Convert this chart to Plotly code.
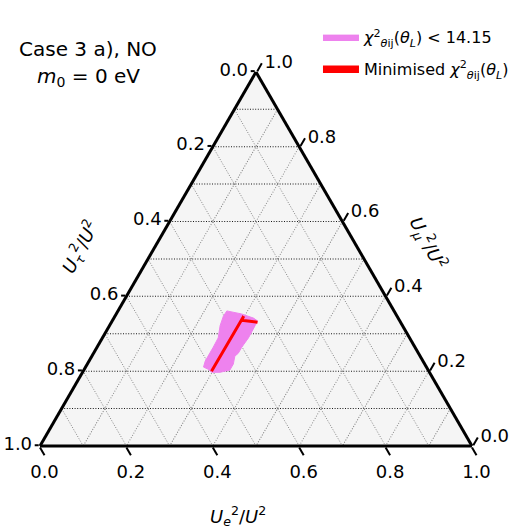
import plotly.graph_objects as go

# ---- data (ternary fractions) ----
# magenta region: chi^2 < 14.15  (mu, tau, e)
region_mu  = [0.361, 0.353, 0.342, 0.334, 0.322, 0.289, 0.264, 0.248, 0.240, 0.219, 0.203,
              0.197, 0.197, 0.205, 0.211, 0.227, 0.264, 0.289, 0.322, 0.347, 0.361]
region_tau = [0.387, 0.357, 0.335, 0.329, 0.341, 0.373, 0.401, 0.417, 0.429, 0.443, 0.459,
              0.485, 0.504, 0.508, 0.516, 0.504, 0.467, 0.443, 0.422, 0.402, 0.387]
region_e   = [0.252, 0.290, 0.323, 0.337, 0.337, 0.338, 0.335, 0.335, 0.331, 0.338, 0.338,
              0.318, 0.299, 0.287, 0.273, 0.269, 0.269, 0.268, 0.256, 0.251, 0.252]

# red line: minimised chi^2
line_mu  = [0.200, 0.347, 0.336, 0.331]
line_tau = [0.503, 0.355, 0.365, 0.331]
line_e   = [0.297, 0.298, 0.299, 0.338]

grid_vals = [0.0, 0.1, 0.2, 0.3, 0.4, 0.5, 0.6, 0.7, 0.8, 0.9, 1.0]
tick_vals = [0.0, 0.2, 0.4, 0.6, 0.8, 1.0]
tick_text = ["1.0", "0.8", "0.6", "0.4", "0.2", "0.0"]  # edge labels show complementary component

FONT = "DejaVu Sans"

fig = go.Figure()

fig.add_trace(go.Scatterternary(
    a=region_mu, b=region_tau, c=region_e,
    mode="lines", fill="toself",
    fillcolor="#EE82EE", line=dict(color="#EE82EE", width=1),
    name="<i>χ</i><sup>2</sup><sub><i>θ</i>ij</sub>(<i>θ</i><sub><i>L</i></sub>) &lt; 14.15",
    legendgroup="g1", subplot="ternary", hoverinfo="skip",
))

# the line is traced out and back so its legend entry is drawn as a patch
fig.add_trace(go.Scatterternary(
    a=line_mu + line_mu[::-1], b=line_tau + line_tau[::-1], c=line_e + line_e[::-1],
    mode="lines", fill="toself", fillcolor="red", line=dict(color="red", width=3),
    name="Minimised <i>χ</i><sup>2</sup><sub><i>θ</i>ij</sub>(<i>θ</i><sub><i>L</i></sub>)",
    legendgroup="g2", subplot="ternary2", hoverinfo="skip",
))

W, H = 523, 532
x0, x1 = 40, 472
ybot = 446
tri_h = (x1 - x0) * 3 ** 0.5 / 2
ytop = ybot - tri_h
dom_x = [x0 / W, x1 / W]
dom_y = [(H - ybot) / H, (H - ytop) / H]

def grid_axis(color):
    return dict(title=dict(text=""), tickmode="array", tickvals=grid_vals,
                showticklabels=False, ticks="", showgrid=True,
                gridcolor=color, gridwidth=1, griddash="1px,1.6px",
                showline=False, linewidth=0)

def tick_axis(ticklen):
    return dict(title=dict(text=""), tickmode="array", tickvals=tick_vals, ticktext=tick_text,
                showticklabels=True, ticks="outside", ticklen=ticklen, tickwidth=1.5, tickcolor="black",
                tickfont=dict(family=FONT, size=18, color="black"),
                showgrid=False, showline=True, linewidth=3, linecolor="black")

fig.update_layout(
    width=W, height=H,
    margin=dict(l=0, r=0, t=0, b=0),
    paper_bgcolor="white",
    font=dict(family=FONT, size=17, color="black"),
    ternary=dict(domain=dict(x=dom_x, y=dom_y), sum=1, bgcolor="#f5f5f5",
                 aaxis=grid_axis("rgba(0,0,0,0.9)"),
                 baxis=grid_axis("rgba(120,120,120,0.9)"),
                 caxis=grid_axis("rgba(120,120,120,0.9)")),
    ternary2=dict(domain=dict(x=dom_x, y=dom_y), sum=1, bgcolor="rgba(0,0,0,0)",
                  aaxis=tick_axis(4), baxis=tick_axis(9), caxis=tick_axis(9)),
    showlegend=True,
    legend=dict(x=0.608, y=0.962, xanchor="left", yanchor="top",
                bgcolor="rgba(0,0,0,0)", font=dict(family=FONT, size=16),
                traceorder="grouped", tracegroupgap=8, itemwidth=36),
    annotations=[
        dict(text="Case 3 a), NO", x=88 / W, y=1 - 49 / H, xref="paper", yref="paper",
             xanchor="center", yanchor="middle", showarrow=False, font=dict(family=FONT, size=20)),
        dict(text="<i>m</i><sub>0</sub> = 0 eV", x=88 / W, y=1 - 77 / H, xref="paper", yref="paper",
             xanchor="center", yanchor="middle", showarrow=False, font=dict(family=FONT, size=20)),
        dict(text="<i>U</i><sub><i>e</i></sub><sup>2</sup>/<i>U</i><sup>2</sup>", x=238 / W, y=1 - 516 / H,
             xref="paper", yref="paper", xanchor="center", yanchor="middle",
             showarrow=False, font=dict(family=FONT, size=18)),
        dict(text="<i>U</i><sub><i>τ</i></sub><sup>2</sup>/<i>U</i><sup>2</sup>", x=80 / W, y=1 - 247 / H,
             xref="paper", yref="paper", xanchor="center", yanchor="middle",
             showarrow=False, textangle=-62, font=dict(family=FONT, size=18)),
        dict(text="<i>U</i><sub><i>μ</i></sub><sup>2</sup>/<i>U</i><sup>2</sup>", x=428 / W, y=1 - 243 / H,
             xref="paper", yref="paper", xanchor="center", yanchor="middle",
             showarrow=False, textangle=62, font=dict(family=FONT, size=18)),
    ],
)

fig.write_html("out.html")
